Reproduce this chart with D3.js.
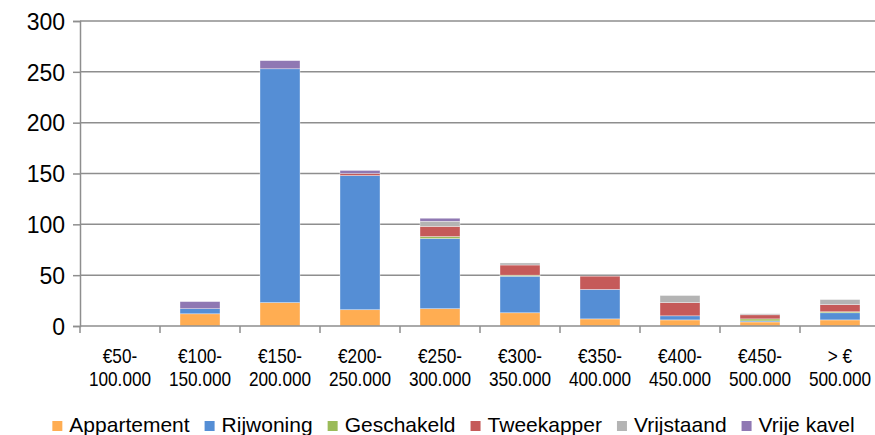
<!DOCTYPE html>
<html>
<head>
<meta charset="utf-8">
<script src="https://cdn.jsdelivr.net/npm/d3@7"></script>
<style>
  html, body { margin: 0; padding: 0; background: #fff; }
  svg { display: block; font-family: Arial, "Liberation Sans", sans-serif; }
</style>
</head>
<body>
<svg id="chart" width="875" height="435"></svg>
<script>
const categories = ["€50-\n100.000", "€100-\n150.000", "€150-\n200.000", "€200-\n250.000", "€250-\n300.000",
                    "€300-\n350.000", "€350-\n400.000", "€400-\n450.000", "€450-\n500.000", "> €\n500.000"];
const seriesNames = ["Appartement", "Rijwoning", "Geschakeld", "Tweekapper", "Vrijstaand", "Vrije kavel"];
const appartement = [0, 12, 23, 16, 17, 13, 7, 6, 4, 6];
const rijwoning   = [0, 5, 230, 132, 69, 36, 29, 4, 1, 7];
const geschakeld  = [0, 0, 0, 0, 2, 1, 0, 0, 2, 1];
const tweekapper  = [0, 0, 0, 2, 10, 10, 13, 13, 4, 7];
const vrijstaand  = [0, 0, 0, 0, 5, 2, 0, 7, 1, 5];
const vrijeKavel  = [0, 7, 8, 3, 3, 0, 0, 0, 0, 0];
const yTicks = [0, 50, 100, 150, 200, 250, 300];
const colors = ["#FFAD52", "#558ED5", "#9BBB59", "#C55A59", "#B4B4B4", "#8F78B3"];

const seriesValues = [appartement, rijwoning, geschakeld, tweekapper, vrijstaand, vrijeKavel];
const table = categories.map((c, i) => {
  const row = { cat: c };
  seriesNames.forEach((s, j) => row[s] = seriesValues[j][i]);
  return row;
});

(function draw() {
const svg = d3.select("#chart");
const mLeft = 80, mRight = 880, mTop = 21, mBottom = 326;
const axisColor = "#8e8e8e";

const x = d3.scaleBand().domain(categories).range([mLeft, mRight]).paddingInner(0.5).paddingOuter(0.25);
const y = d3.scaleLinear().domain([0, 300]).range([mBottom, mTop]);

// gridlines
svg.append("g").selectAll("line").data(yTicks.filter(t => t > 0)).join("line")
  .attr("x1", mLeft).attr("x2", mRight)
  .attr("y1", d => y(d)).attr("y2", d => y(d))
  .attr("stroke", axisColor).attr("stroke-width", 1.5);

// bars
const stack = d3.stack().keys(seriesNames)(table);
svg.append("g").selectAll("g").data(stack).join("g")
  .attr("fill", (d, i) => colors[i])
  .selectAll("rect").data(d => d.filter(p => p[1] - p[0] > 0)).join("rect")
  .attr("x", d => x(d.data.cat))
  .attr("width", x.bandwidth())
  .attr("y", d => y(d[1]))
  .attr("height", d => y(d[0]) - y(d[1]))
  .attr("stroke", "rgba(255,255,255,0.6)").attr("stroke-width", 0.6);

// y axis
const yAxis = svg.append("g").attr("transform", `translate(${mLeft},0)`)
  .call(d3.axisLeft(y).tickValues(yTicks).tickSize(7).tickPadding(8));
yAxis.select(".domain").attr("stroke", axisColor).attr("stroke-width", 1.5);
yAxis.selectAll(".tick line").attr("stroke", axisColor).attr("stroke-width", 1.5);
yAxis.selectAll(".tick text").attr("font-size", "23px").attr("fill", "#000")
  .attr("font-family", "Arial, 'Liberation Sans', sans-serif").attr("dy", "0.36em");

// x axis
const xAxisG = svg.append("g");
xAxisG.append("line").attr("x1", mLeft).attr("x2", mRight).attr("y1", mBottom).attr("y2", mBottom)
  .attr("stroke", axisColor).attr("stroke-width", 1.5);
const boundaries = categories.map(c => x(c) - x.step() * x.paddingInner() / 2);
xAxisG.selectAll("line.tk").data(boundaries).join("line").attr("class", "tk")
  .attr("x1", d => d).attr("x2", d => d).attr("y1", mBottom).attr("y2", mBottom + 7)
  .attr("stroke", axisColor).attr("stroke-width", 1.5);

const labels = xAxisG.selectAll("g.lbl").data(categories).join("g").attr("class", "lbl")
  .attr("transform", d => `translate(${x(d) + x.bandwidth() / 2},0) scale(0.86,1)`);
labels.each(function(d) {
  const parts = d.split("\n");
  const g = d3.select(this);
  parts.forEach((p, k) => {
    g.append("text").attr("x", 0).attr("y", k === 0 ? 363 : 386)
      .attr("text-anchor", "middle").attr("font-size", "20px").attr("fill", "#000").text(p);
  });
});

// legend
const legend = svg.append("g");
const items = legend.selectAll("g").data(seriesNames).join("g");
items.append("rect").attr("width", 10).attr("height", 10).attr("y", 421)
  .attr("fill", (d, i) => colors[i]);
items.append("text").attr("x", 17).attr("y", 432).attr("font-size", "21px").attr("fill", "#000")
  .text(d => d);
let pos = 0;
const offsets = [];
items.each(function() {
  offsets.push(pos);
  const w = d3.select(this).select("text").node().getComputedTextLength();
  pos += 17 + w + 15;
});
const totalW = pos - 15;
const startX = 453.5 - totalW / 2;
items.attr("transform", (d, i) => `translate(${startX + offsets[i]},0)`);
})();
</script>
</body>
</html>
